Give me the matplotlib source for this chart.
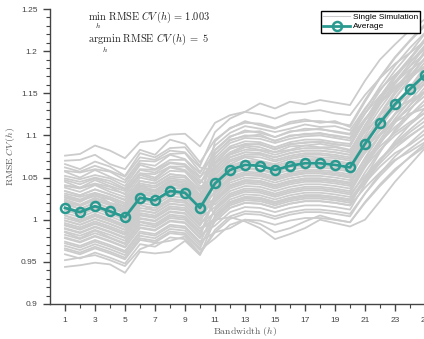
import matplotlib
matplotlib.use("Agg")
import matplotlib.pyplot as plt
from matplotlib.lines import Line2D
from matplotlib.ticker import MultipleLocator, FixedLocator, FuncFormatter

plt.rcParams['mathtext.fontset'] = 'cm'
plt.rcParams['font.family'] = ['Liberation Sans', 'DejaVu Sans']

bandwidth = list(range(1, 26))
average = [1.014, 1.009, 1.016, 1.010, 1.003, 1.026, 1.023, 1.034, 1.032, 1.014,
           1.043, 1.059, 1.065, 1.064, 1.059, 1.064, 1.067, 1.067, 1.065, 1.062,
           1.090, 1.115, 1.137, 1.155, 1.172]

simulations = [
    [1.076,1.078,1.088,1.082,1.073,1.092,1.094,1.101,1.102,1.087,1.115,1.124,1.128,1.138,1.132,1.140,1.137,1.142,1.139,1.136,1.165,1.190,1.208,1.225,1.238],
    [1.070,1.071,1.077,1.066,1.060,1.083,1.077,1.095,1.090,1.068,1.095,1.108,1.117,1.112,1.108,1.116,1.119,1.115,1.117,1.110,1.140,1.168,1.192,1.212,1.230],
    [1.066,1.060,1.069,1.063,1.052,1.079,1.074,1.085,1.086,1.064,1.104,1.120,1.128,1.125,1.120,1.127,1.128,1.130,1.126,1.124,1.148,1.168,1.185,1.198,1.212],
    [1.058,1.056,1.060,1.057,1.047,1.070,1.069,1.078,1.079,1.057,1.078,1.095,1.099,1.101,1.093,1.100,1.101,1.103,1.099,1.097,1.126,1.153,1.177,1.198,1.221],
    [1.057,1.050,1.059,1.051,1.044,1.067,1.064,1.077,1.072,1.055,1.088,1.103,1.111,1.108,1.104,1.108,1.113,1.110,1.111,1.106,1.132,1.155,1.172,1.188,1.202],
    [1.052,1.048,1.053,1.049,1.040,1.065,1.060,1.071,1.071,1.051,1.067,1.085,1.089,1.090,1.083,1.090,1.091,1.093,1.089,1.088,1.118,1.146,1.170,1.191,1.215],
    [1.049,1.045,1.050,1.046,1.037,1.060,1.059,1.068,1.066,1.050,1.082,1.098,1.106,1.103,1.098,1.105,1.106,1.108,1.104,1.101,1.126,1.147,1.163,1.178,1.190],
    [1.045,1.038,1.047,1.040,1.034,1.055,1.054,1.063,1.063,1.044,1.063,1.078,1.086,1.083,1.080,1.083,1.088,1.086,1.086,1.082,1.112,1.138,1.161,1.182,1.205],
    [1.041,1.038,1.043,1.039,1.030,1.055,1.050,1.063,1.059,1.043,1.074,1.091,1.097,1.096,1.091,1.096,1.099,1.100,1.097,1.094,1.118,1.138,1.155,1.168,1.182],
    [1.038,1.033,1.041,1.033,1.027,1.050,1.046,1.058,1.057,1.037,1.055,1.071,1.077,1.077,1.071,1.076,1.079,1.079,1.077,1.074,1.105,1.132,1.156,1.176,1.200],
    [1.034,1.029,1.036,1.030,1.024,1.046,1.043,1.054,1.052,1.034,1.071,1.087,1.093,1.092,1.086,1.092,1.095,1.095,1.092,1.090,1.118,1.143,1.164,1.182,1.197],
    [1.031,1.027,1.032,1.027,1.020,1.043,1.040,1.051,1.050,1.030,1.048,1.064,1.070,1.069,1.064,1.069,1.072,1.072,1.070,1.067,1.094,1.118,1.139,1.156,1.172],
    [1.027,1.023,1.028,1.024,1.015,1.040,1.035,1.047,1.045,1.027,1.061,1.077,1.083,1.082,1.077,1.082,1.085,1.085,1.083,1.080,1.112,1.141,1.168,1.190,1.212],
    [1.024,1.018,1.026,1.020,1.013,1.036,1.033,1.044,1.041,1.024,1.038,1.054,1.060,1.059,1.054,1.059,1.062,1.062,1.060,1.057,1.089,1.118,1.144,1.166,1.187],
    [1.021,1.016,1.023,1.017,1.010,1.033,1.030,1.041,1.039,1.021,1.053,1.069,1.075,1.074,1.069,1.074,1.077,1.077,1.075,1.072,1.096,1.117,1.135,1.149,1.162],
    [1.018,1.013,1.020,1.014,1.007,1.030,1.027,1.038,1.036,1.018,1.031,1.047,1.053,1.052,1.047,1.052,1.055,1.055,1.053,1.050,1.081,1.109,1.134,1.156,1.177],
    [1.015,1.010,1.017,1.011,1.004,1.027,1.024,1.035,1.033,1.015,1.043,1.059,1.065,1.064,1.059,1.064,1.067,1.067,1.065,1.062,1.094,1.123,1.149,1.171,1.192],
    [1.011,1.006,1.013,1.007,1.000,1.023,1.020,1.031,1.029,1.011,1.058,1.074,1.080,1.079,1.074,1.079,1.082,1.082,1.080,1.077,1.098,1.116,1.131,1.142,1.152],
    [1.008,1.003,1.010,1.004,0.997,1.020,1.017,1.028,1.026,1.008,1.023,1.039,1.045,1.044,1.039,1.044,1.047,1.047,1.045,1.042,1.073,1.101,1.126,1.147,1.167],
    [1.005,1.000,1.007,1.001,0.994,1.017,1.014,1.025,1.023,1.005,1.035,1.051,1.057,1.056,1.051,1.056,1.059,1.059,1.057,1.054,1.079,1.100,1.118,1.132,1.147],
    [1.002,0.997,1.004,0.998,0.991,1.014,1.011,1.022,1.020,1.002,1.015,1.031,1.037,1.036,1.031,1.036,1.039,1.039,1.037,1.034,1.065,1.092,1.116,1.136,1.157],
    [0.999,0.994,1.001,0.995,0.988,1.011,1.008,1.019,1.017,0.999,1.028,1.044,1.050,1.049,1.044,1.049,1.052,1.052,1.050,1.047,1.071,1.092,1.110,1.124,1.137],
    [0.996,0.991,0.998,0.992,0.985,1.008,1.005,1.016,1.014,0.996,1.008,1.024,1.030,1.029,1.024,1.029,1.032,1.032,1.030,1.027,1.056,1.082,1.105,1.124,1.142],
    [0.993,0.988,0.995,0.989,0.982,1.005,1.002,1.013,1.011,0.993,1.021,1.037,1.043,1.042,1.037,1.042,1.045,1.045,1.043,1.040,1.063,1.083,1.100,1.113,1.127],
    [0.990,0.985,0.992,0.986,0.979,1.002,0.999,1.010,1.008,0.990,1.001,1.017,1.023,1.022,1.017,1.022,1.025,1.025,1.023,1.020,1.047,1.071,1.091,1.107,1.122],
    [0.986,0.981,0.988,0.982,0.975,0.998,0.995,1.006,1.004,0.986,1.011,1.027,1.033,1.032,1.027,1.032,1.035,1.035,1.033,1.030,1.052,1.072,1.088,1.100,1.112],
    [0.982,0.977,0.984,0.978,0.971,0.994,0.991,1.002,1.000,0.982,0.993,1.009,1.015,1.014,1.009,1.014,1.017,1.017,1.015,1.012,1.042,1.069,1.093,1.113,1.132],
    [0.978,0.973,0.980,0.974,0.967,0.990,0.987,0.998,0.996,0.978,1.003,1.019,1.025,1.024,1.019,1.024,1.027,1.027,1.025,1.022,1.044,1.063,1.079,1.089,1.102],
    [0.974,0.969,0.976,0.970,0.963,0.986,0.983,0.994,0.992,0.974,0.985,1.001,1.007,1.006,1.001,1.006,1.009,1.009,1.007,1.004,1.031,1.055,1.075,1.091,1.107],
    [0.969,0.964,0.971,0.965,0.958,0.981,0.978,0.989,0.987,0.969,0.998,1.014,1.020,1.019,1.014,1.019,1.022,1.022,1.020,1.017,1.038,1.056,1.071,1.081,1.092],
    [0.964,0.959,0.966,0.960,0.953,0.976,0.973,0.984,0.982,0.964,0.978,0.994,1.000,0.999,0.994,0.999,1.002,1.002,1.000,0.997,1.021,1.042,1.060,1.074,1.087],
    [0.959,0.954,0.961,0.955,0.948,0.971,0.968,0.979,0.977,0.959,0.988,1.004,1.010,1.009,1.004,1.009,1.012,1.012,1.010,1.007,1.031,1.052,1.070,1.084,1.097],
    [0.944,0.946,0.949,0.947,0.937,0.962,0.960,0.962,0.975,0.958,1.000,1.003,0.998,0.990,0.977,0.983,0.990,1.000,0.996,0.992,1.000,1.022,1.045,1.065,1.085],
    [0.952,0.955,0.958,0.952,0.945,0.965,0.972,0.975,0.980,0.960,0.985,0.990,1.000,0.995,0.985,0.990,0.998,1.005,1.000,0.997,1.020,1.040,1.058,1.075,1.090],
    [1.022,1.012,1.021,1.013,1.010,1.030,1.030,1.037,1.038,1.020,1.066,1.080,1.088,1.086,1.080,1.087,1.088,1.090,1.087,1.083,1.104,1.124,1.140,1.152,1.165],
    [1.005,0.998,1.005,1.000,0.992,1.018,1.011,1.024,1.022,1.006,1.050,1.066,1.074,1.070,1.066,1.072,1.075,1.074,1.073,1.070,1.100,1.126,1.152,1.175,1.198],
    [1.040,1.037,1.042,1.036,1.031,1.053,1.048,1.062,1.058,1.040,1.040,1.056,1.062,1.060,1.056,1.062,1.064,1.064,1.062,1.059,1.085,1.106,1.125,1.140,1.152],
    [0.985,0.978,0.987,0.979,0.972,0.997,0.993,1.004,1.002,0.983,1.025,1.041,1.047,1.046,1.041,1.046,1.049,1.049,1.047,1.044,1.073,1.100,1.125,1.149,1.172],
    [1.026,1.021,1.030,1.020,1.016,1.038,1.034,1.046,1.043,1.026,1.083,1.099,1.104,1.105,1.098,1.104,1.108,1.107,1.105,1.102,1.130,1.158,1.183,1.204,1.222],
    [0.972,0.967,0.974,0.968,0.961,0.984,0.981,0.992,0.990,0.972,1.013,1.029,1.035,1.034,1.029,1.034,1.037,1.037,1.035,1.032,1.062,1.090,1.115,1.136,1.152],
    [1.047,1.042,1.049,1.043,1.036,1.059,1.056,1.067,1.065,1.047,1.033,1.049,1.055,1.054,1.049,1.054,1.057,1.057,1.055,1.052,1.085,1.116,1.144,1.168,1.192],
    [1.012,1.007,1.014,1.008,1.001,1.024,1.021,1.032,1.030,1.012,1.078,1.094,1.100,1.099,1.094,1.099,1.102,1.102,1.100,1.097,1.120,1.140,1.158,1.172,1.182],
    [1.029,1.024,1.031,1.025,1.018,1.041,1.038,1.049,1.047,1.029,1.018,1.034,1.040,1.039,1.034,1.039,1.042,1.042,1.040,1.037,1.068,1.095,1.120,1.141,1.162],
    [0.994,0.989,0.996,0.990,0.983,1.006,1.003,1.014,1.012,0.994,1.046,1.062,1.068,1.067,1.062,1.067,1.070,1.070,1.068,1.065,1.085,1.102,1.116,1.126,1.132],
    [0.979,0.974,0.981,0.975,0.968,0.991,0.988,0.999,0.997,0.979,1.031,1.047,1.053,1.052,1.047,1.052,1.055,1.055,1.053,1.050,1.082,1.110,1.135,1.157,1.182],
    [1.062,1.057,1.064,1.058,1.051,1.074,1.071,1.082,1.080,1.062,1.058,1.074,1.080,1.079,1.074,1.079,1.082,1.082,1.080,1.077,1.108,1.137,1.163,1.186,1.207],
    [0.989,0.984,0.991,0.985,0.978,1.001,0.998,1.009,1.007,0.989,0.998,1.014,1.020,1.019,1.014,1.019,1.022,1.022,1.020,1.017,1.050,1.080,1.107,1.130,1.152],
    [1.022,1.017,1.024,1.018,1.011,1.034,1.031,1.042,1.040,1.022,1.093,1.109,1.115,1.114,1.109,1.114,1.117,1.117,1.115,1.112,1.142,1.169,1.193,1.213,1.232],
    [0.966,0.961,0.968,0.962,0.955,0.978,0.975,0.986,0.984,0.966,1.005,1.021,1.027,1.026,1.021,1.026,1.029,1.029,1.027,1.024,1.049,1.071,1.089,1.104,1.117],
    [1.034,1.029,1.036,1.030,1.023,1.046,1.043,1.054,1.052,1.034,1.005,1.021,1.027,1.026,1.021,1.026,1.029,1.029,1.027,1.024,1.046,1.067,1.085,1.099,1.112],
    [0.999,0.994,1.001,0.995,0.988,1.011,1.008,1.019,1.017,0.999,1.068,1.084,1.090,1.089,1.084,1.089,1.092,1.092,1.090,1.087,1.118,1.146,1.171,1.192,1.212],
    [1.014,1.009,1.016,1.010,1.003,1.026,1.023,1.034,1.032,1.014,1.025,1.041,1.047,1.046,1.041,1.046,1.049,1.049,1.047,1.044,1.067,1.087,1.103,1.116,1.127],
]

fig = plt.figure(figsize=(4.24, 3.39), dpi=100)
ax = fig.add_axes([50/424, 35/339, 390/424, 295/339])

gray = '#cccccc'
teal = '#2a9a91'
for sim in simulations:
    ax.plot(bandwidth, sim, color=gray, lw=1.3, zorder=1)
ax.plot(bandwidth, average, color=teal, lw=2, marker='o', ms=6.5,
        mfc='none', mec=teal, mew=1.8, zorder=3)

ax.set_xlim(0, 26)
ax.set_ylim(0.9, 1.25)
ax.xaxis.set_major_locator(FixedLocator(list(range(1, 27, 2))))
ax.xaxis.set_minor_locator(FixedLocator(list(range(2, 27, 2))))
ax.yaxis.set_major_locator(MultipleLocator(0.05))
ax.yaxis.set_minor_locator(MultipleLocator(0.01))
ax.yaxis.set_major_formatter(FuncFormatter(lambda v, p: ('%.2f' % v).rstrip('0').rstrip('.')))

for s in ['top', 'right']:
    ax.spines[s].set_visible(False)
for s in ['left', 'bottom']:
    ax.spines[s].set_color('#444444')
    ax.spines[s].set_linewidth(1.0)
ax.tick_params(which='major', direction='out', length=5, width=1, color='#444444',
               labelsize=6, labelcolor='#444444', pad=4)
ax.tick_params(which='minor', direction='out', length=3, width=0.8, color='#444444')

ax.set_xlabel(r'$\mathrm{Bandwidth}\ (h)$', fontsize=7, color='#555555', labelpad=1)
ax.set_ylabel(r'$\mathrm{RMSE}\ CV\,(h)$', fontsize=7, color='#555555', labelpad=3)

ax.text(2.5, 1.236, r'$\min_{h}\ \mathrm{RMSE}\ CV\,(h)\ =\ 1.003$', fontsize=7.5,
        color='#222222', va='center', ha='left')
ax.text(2.5, 1.209, r'$\underset{h}{\mathrm{argmin}}\ \mathrm{RMSE}\ CV\,(h)\ =\ 5$', fontsize=7.5,
        color='#222222', va='center', ha='left')

handles = [Line2D([], [], color=gray, lw=0.8),
           Line2D([], [], color=teal, lw=2, marker='o', ms=6.5, mfc='none', mec=teal, mew=1.8)]
leg = ax.legend(handles, ['Single Simulation', 'Average'], loc='upper right',
                bbox_to_anchor=(372/390, 1.0), fontsize=6,
                frameon=True, fancybox=False, framealpha=1, edgecolor='black',
                borderpad=0.3, labelspacing=0.2, handlelength=3.2, handletextpad=0.3,
                borderaxespad=0.2)
leg.get_frame().set_linewidth(1.0)

fig.savefig('out.png', dpi=100)
